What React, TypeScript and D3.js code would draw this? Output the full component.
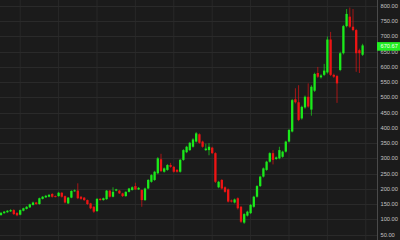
import React from "react";
import * as d3 from "d3";

const opens = [114,120,123,126,130,121,115,128,134,139,147,155,150,167,172,174,183,176,176,187,176,152,171,192,194,174,171,163,152,141,127,167,163,166,194,174,194,194,185,176,190,196,209,198,196,163,201,223,229,251,297,256,262,278,272,262,256,295,320,327,338,355,379,355,327,327,335,317,205,229,205,198,162,155,169,141,89,112,120,141,174,209,240,262,289,317,298,300,305,322,355,388,494,484,431,467,502,460,522,580,566,574,582,690,574,570,590,645,734,765,732,721,655,640];
const closes = [121,125,128,130,117,113,130,136,141,149,155,150,169,174,177,180,174,174,187,174,155,171,193,195,169,167,163,150,136,125,167,163,169,194,174,190,198,185,176,190,201,205,198,203,163,201,229,245,256,300,258,267,278,272,256,256,295,327,338,351,362,382,351,338,332,338,317,223,223,201,190,158,158,165,136,92,117,125,147,174,209,240,267,289,317,295,303,327,322,355,393,491,484,426,469,502,470,535,577,568,572,588,690,574,568,546,645,734,774,732,721,645,645,670.67];
const highs = [124,127,130,133,133,123,132,138,143,151,158,157,171,176,180,183,186,178,190,189,178,173,195,198,218,176,173,165,154,143,169,170,171,196,196,205,200,196,187,192,203,208,220,206,198,204,232,248,259,304,315,270,281,285,275,265,298,330,341,354,366,386,382,358,348,350,338,320,226,232,208,201,165,168,172,144,120,128,150,177,212,243,270,292,320,327,306,338,325,358,397,495,530,540,473,506,546,540,581,600,576,610,700,715,578,574,650,738,790,795,790,725,660,676];
const lows = [111,118,121,124,114,110,113,126,132,137,145,147,148,165,170,172,171,172,174,171,152,150,169,190,166,164,160,147,133,121,124,161,161,164,171,172,192,183,173,174,188,194,196,196,141,160,199,220,226,248,255,253,259,269,253,253,253,292,317,324,335,352,348,335,324,310,314,219,202,198,187,155,155,152,132,88,85,109,117,138,171,206,237,259,286,280,295,297,302,319,352,385,480,422,427,463,466,440,518,564,562,570,578,570,564,482,586,641,730,728,717,584,580,636];

const tickValues = [50,100,150,200,250,300,350,400,450,500,550,600,650,700,750,800];
const gridIndices = [6,18,30,42,54,66,78,90,102,114];
const lastPrice = 670.67;

const W = 400;
const H = 240;
const PLOT_RIGHT = 377;
const GREEN = "#1bea1b";
const RED = "#ee1414";

export default function App() {
  const n = opens.length;
  const x = d3.scaleLinear().domain([0, n - 1]).range([1, 362.6]);
  const y = d3.scaleLinear().domain([50, 800]).range([234.5, 6]);
  const bw = 2.3;
  const font = "'Liberation Sans', Arial, sans-serif";
  const ly = y(lastPrice) + 1;
  return (
    <svg width={W} height={H} style={{ position: "fixed", left: 0, top: 0, background: "#1b1b1b" }}>
      <rect x={0} y={0} width={W} height={H} fill="#1b1b1b" />
      {gridIndices.map((g) => (
        <line key={"v" + g} x1={x(g)} x2={x(g)} y1={0} y2={H} stroke="#282828" strokeWidth={1} />
      ))}
      {tickValues.map((t) => (
        <line key={"h" + t} x1={0} x2={PLOT_RIGHT} y1={Math.round(y(t)) + 0.5} y2={Math.round(y(t)) + 0.5} stroke="#2a2a2a" strokeWidth={1} />
      ))}
      {opens.map((o, i) => {
        const c = closes[i];
        const up = c >= o;
        const col = up ? GREEN : RED;
        const cx = x(i);
        const top = y(Math.max(o, c));
        const bot = y(Math.min(o, c));
        return (
          <g key={i}>
            <line x1={cx} x2={cx} y1={y(highs[i])} y2={y(lows[i])} stroke={col} strokeOpacity={0.65} strokeWidth={1} />
            <rect x={cx - bw / 2} y={top} width={bw} height={Math.max(1, bot - top)} fill={col} />
          </g>
        );
      })}
      <rect x={PLOT_RIGHT} y={0} width={W - PLOT_RIGHT} height={H} fill="#1b1b1b" />
      <line x1={PLOT_RIGHT + 0.5} x2={PLOT_RIGHT + 0.5} y1={0} y2={H} stroke="#4a4a4a" strokeWidth={1} />
      {tickValues.map((t) => (
        <text key={"t" + t} x={380.5} y={y(t)} dominantBaseline="central" fontFamily={font} fontSize={5.7} fill="#c4c4c4">
          {t.toFixed(2)}
        </text>
      ))}
      <rect x={PLOT_RIGHT} y={ly - 4.3} width={W - PLOT_RIGHT} height={8.6} fill="#22ee22" />
      <text x={380.5} y={ly} dominantBaseline="central" fontFamily={font} fontSize={5.7} fill="#f2fff2">
        {lastPrice.toFixed(2)}
      </text>
    </svg>
  );
}
